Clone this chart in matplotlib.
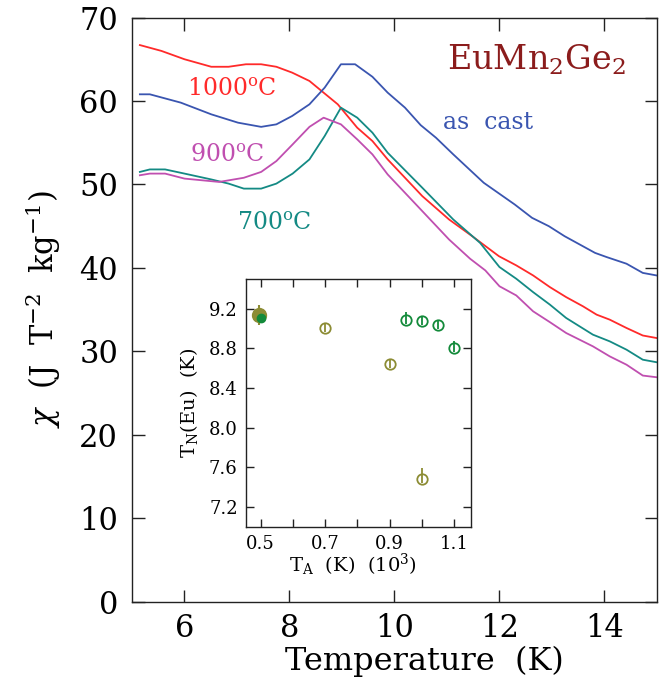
import matplotlib
matplotlib.use("Agg")
import matplotlib.pyplot as plt
from matplotlib.ticker import MultipleLocator, FixedLocator, FuncFormatter

plt.rcParams['font.family'] = ['DejaVu Serif']
plt.rcParams['mathtext.fontset'] = 'dejavuserif'

# ---------------- data ----------------
T_cast = [5.15, 5.34, 5.93, 6.51, 7.02, 7.46, 7.75, 8.05, 8.38, 8.67, 8.98, 9.25, 9.58, 9.87,
          10.2, 10.5, 10.79, 11.12, 11.7, 12.29, 12.62, 12.94, 13.24, 13.82, 14.04, 14.42, 14.73, 14.99]
chi_cast = [60.8, 60.8, 59.8, 58.4, 57.4, 56.9, 57.2, 58.2, 59.6, 61.6, 64.4, 64.4, 62.9, 61.0,
            59.2, 57.1, 55.6, 53.6, 50.2, 47.6, 46.0, 45.0, 43.8, 41.8, 41.3, 40.5, 39.4, 39.1]

T_1000 = [5.15, 5.56, 6.0, 6.51, 6.84, 7.17, 7.46, 7.75, 8.05, 8.38, 8.63, 8.92, 9.29, 9.58, 9.87,
          10.53, 11.04, 11.48, 11.99, 12.32, 12.64, 12.96, 13.27, 13.59, 13.85, 14.1, 14.42, 14.73, 14.99]
chi_1000 = [66.7, 66.0, 65.0, 64.1, 64.1, 64.4, 64.4, 64.1, 63.4, 62.4, 61.1, 59.6, 56.8, 55.2, 53.0,
            48.6, 45.8, 43.8, 41.4, 40.3, 39.1, 37.7, 36.5, 35.4, 34.4, 33.8, 32.8, 31.9, 31.6]

T_700 = [5.15, 5.34, 5.63, 6.0, 6.51, 6.84, 7.13, 7.46, 7.75, 8.06, 8.38, 8.67, 8.98, 9.29, 9.58, 9.87,
         10.53, 11.12, 11.63, 12.0, 12.32, 12.64, 12.96, 13.27, 13.78, 14.1, 14.42, 14.73, 14.99]
chi_700 = [51.5, 51.8, 51.8, 51.3, 50.6, 50.1, 49.5, 49.5, 50.1, 51.3, 53.0, 55.8, 59.2, 58.0, 56.2, 53.8,
           49.6, 45.8, 43.0, 40.1, 38.7, 37.1, 35.6, 34.0, 32.0, 31.2, 30.2, 29.0, 28.7]

T_900 = [5.15, 5.34, 5.63, 6.0, 6.66, 7.13, 7.46, 7.75, 8.06, 8.38, 8.65, 8.98, 9.29, 9.58, 9.87,
         10.5, 11.04, 11.44, 11.73, 12.0, 12.32, 12.64, 12.96, 13.27, 13.78, 14.1, 14.42, 14.73, 14.99]
chi_900 = [51.1, 51.3, 51.3, 50.7, 50.3, 50.8, 51.5, 52.8, 54.8, 56.9, 58.0, 57.2, 55.4, 53.6, 51.2,
           47.0, 43.4, 41.1, 39.7, 37.8, 36.7, 34.8, 33.5, 32.2, 30.6, 29.4, 28.4, 27.1, 26.9]

# inset: annealing temperature (10^3 K) vs T_N(Eu)
TA_olive = [0.7, 0.9, 1.0]
TN_olive = [9.01, 8.64, 7.485]
err_olive_lo = [0.04, 0.04, 0.04]
err_olive_hi = [0.04, 0.04, 0.11]

TA_green = [0.95, 1.0, 1.05, 1.1]
TN_green = [9.09, 9.076, 9.036, 8.80]
err_green_lo = [0.04, 0.04, 0.04, 0.04]
err_green_hi = [0.08, 0.05, 0.04, 0.08]

TA_cast_olive, TN_cast_olive, err_cast = 0.495, 9.14, 0.1
TA_cast_green, TN_cast_green = 0.5, 9.11

# colours
c_red = "#ff2a2a"
c_blue = "#3a55b0"
c_teal = "#148a84"
c_mag = "#c04fb0"
c_title = "#8b1c1c"
c_olive = "#8c8c34"
c_green = "#138a3a"

# ---------------- figure ----------------
fig = plt.figure(figsize=(6.62, 6.82), dpi=100)
ax = fig.add_axes([0.1994, 0.1177, 0.793, 0.8566])

lw = 1.3
ax.plot(T_1000, chi_1000, color=c_red, lw=lw)
ax.plot(T_cast, chi_cast, color=c_blue, lw=lw)
ax.plot(T_700, chi_700, color=c_teal, lw=lw)
ax.plot(T_900, chi_900, color=c_mag, lw=lw)

ax.set_xlim(5, 15)
ax.set_ylim(0, 70)
ax.xaxis.set_major_locator(FixedLocator([6, 8, 10, 12, 14]))
ax.yaxis.set_major_locator(MultipleLocator(10))
ax.tick_params(direction='in', which='both', top=True, right=True, length=9,
               width=1.0, labelsize=22, color='#222222')
ax.tick_params(axis='y', pad=10)
ax.tick_params(axis='x', pad=8)
for s in ax.spines.values():
    s.set_linewidth(1.0)
    s.set_color('#222222')

ax.set_xlabel('Temperature  (K)', fontsize=23)
ax.xaxis.set_label_coords(0.556, -0.075)
ax.set_ylabel(r'$\chi$  (J  T$^{-2}$  kg$^{-1}$)', fontsize=22)
ax.yaxis.set_label_coords(-0.131, 0.5)

ax.text(11.0, 63.8, r'EuMn$_2$Ge$_2$', color=c_title, fontsize=24, ha='left', va='baseline')
ax.text(6.04, 60.6, r'1000$^{\mathrm{o}}$C', color=c_red, fontsize=17, ha='left', va='baseline')
ax.text(10.92, 56.6, 'as  cast', color=c_blue, fontsize=17, ha='left', va='baseline')
ax.text(6.11, 52.7, r'900$^{\mathrm{o}}$C', color=c_mag, fontsize=17, ha='left', va='baseline')
ax.text(7.0, 44.6, r'700$^{\mathrm{o}}$C', color=c_teal, fontsize=17, ha='left', va='baseline')

# ---------------- inset ----------------
ins = fig.add_axes([0.3716, 0.2273, 0.340, 0.3636])
ins.set_xlim(0.455, 1.152)
ins.set_ylim(7.0, 9.5)

ins.errorbar(TA_olive, TN_olive, yerr=[err_olive_lo, err_olive_hi], fmt='o', ms=7.5,
             mfc='none', mec=c_olive, mew=1.3, ecolor=c_olive, elinewidth=1.3, capsize=0)
ins.errorbar(TA_green, TN_green, yerr=[err_green_lo, err_green_hi], fmt='o', ms=7.5,
             mfc='none', mec=c_green, mew=1.3, ecolor=c_green, elinewidth=1.3, capsize=0)
ins.errorbar([TA_cast_olive], [TN_cast_olive], yerr=[err_cast], fmt='o', ms=10,
             mfc=c_olive, mec=c_olive, ecolor=c_olive, elinewidth=1.5, capsize=0)
ins.plot([TA_cast_green], [TN_cast_green], 'o', ms=6, color=c_green, zorder=5)

ins.xaxis.set_major_locator(FixedLocator([0.5, 0.6, 0.7, 0.8, 0.9, 1.0, 1.1]))
ins.xaxis.set_major_formatter(FuncFormatter(
    lambda v, p: ('%.1f' % v) if round(v * 10) % 2 == 1 else ''))
ins.yaxis.set_major_locator(FixedLocator([7.2, 7.6, 8.0, 8.4, 8.8, 9.2]))
ins.yaxis.set_major_formatter(FuncFormatter(lambda v, p: '%.1f' % v))
ins.tick_params(direction='in', top=True, right=True, length=6, width=1.0,
                labelsize=13, color='#222222')
ins.tick_params(axis='y', pad=6)
ins.tick_params(axis='x', pad=6)
for s in ins.spines.values():
    s.set_linewidth(1.0)
    s.set_color('#222222')

ins.set_xlabel(r'T$_\mathrm{A}$  (K)  (10$^3$)', fontsize=14)
ins.xaxis.set_label_coords(0.476, -0.1)
ins.set_ylabel(r'T$_\mathrm{N}$(Eu)  (K)', fontsize=14)
ins.yaxis.set_label_coords(-0.204, 0.5)

fig.savefig('out.png', dpi=100)
